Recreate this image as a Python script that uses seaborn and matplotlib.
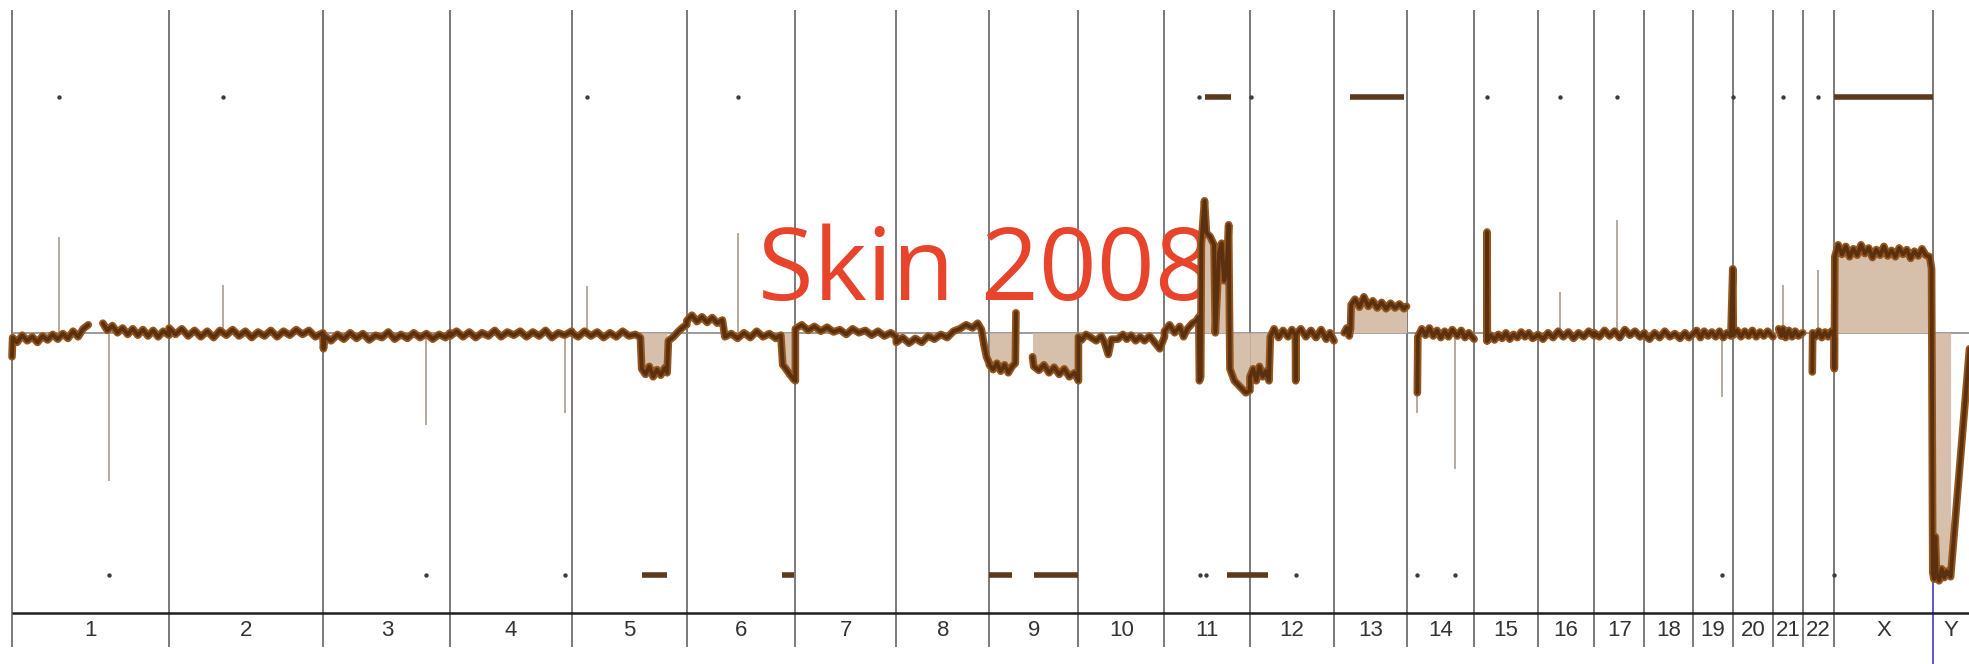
import numpy as np
import pandas as pd
import matplotlib
matplotlib.use("Agg")
import matplotlib.pyplot as plt
import seaborn as sns

nan = np.nan

# chromosomes (hg18 lengths, Mb)
chrom_names = ["1", "2", "3", "4", "5", "6", "7", "8", "9", "10", "11", "12",
               "13", "14", "15", "16", "17", "18", "19", "20", "21", "22", "X", "Y"]
chrom_lengths = [247.2, 242.9, 199.5, 191.3, 180.9, 170.9, 158.8, 146.3, 140.3,
                 135.4, 134.5, 132.3, 114.1, 106.4, 100.3, 88.8, 78.8, 76.1,
                 63.8, 62.4, 46.9, 49.7, 154.9, 57.8]

# smoothed log2 ratio: (position in chromosome, level), nan = gap
chr1_profile = [(0, -0.3), (1, -0.06), (8, -0.12), (16, -0.03), (24, -0.1), (32, -0.05),
                (40, -0.12), (48, -0.04), (56, -0.09), (64, -0.02), (72, -0.08), (80, -0.01),
                (88, -0.07), (96, 0.02), (104, -0.05), (112, 0.05), (120, 0.1), (124, nan),
                (143, 0.12), (150, 0.03), (158, 0.09), (166, 0.0), (174, 0.06), (182, -0.02),
                (190, 0.05), (198, -0.03), (206, 0.04), (214, -0.04), (222, 0.03),
                (230, -0.05), (238, 0.02), (247, -0.03)]
chr2_profile = [(0, 0.06), (10, -0.02), (20, 0.05), (30, -0.04), (40, 0.03), (50, -0.05),
                (60, 0.02), (70, -0.06), (80, 0.03), (90, -0.03), (100, 0.04), (110, -0.04),
                (120, 0.02), (130, -0.06), (140, 0.01), (150, -0.04), (160, 0.03),
                (170, -0.05), (180, 0.02), (190, -0.03), (200, 0.04), (210, -0.02),
                (220, 0.03), (230, -0.05), (242, 0.0)]
chr3_profile = [(0, -0.2), (2, -0.04), (12, -0.1), (22, -0.02), (32, -0.08), (42, 0.0),
                (52, -0.07), (62, -0.01), (72, -0.09), (82, -0.03), (92, -0.06), (102, 0.01),
                (112, -0.08), (122, -0.02), (132, -0.07), (142, 0.0), (152, -0.06),
                (162, -0.01), (172, -0.08), (182, -0.02), (192, -0.06), (199, 0.0)]
chr4_profile = [(0, -0.04), (10, 0.02), (20, -0.05), (30, 0.01), (40, -0.06), (50, 0.0),
                (60, -0.04), (70, 0.03), (80, -0.05), (90, 0.01), (100, -0.03), (110, 0.02),
                (120, -0.05), (130, 0.01), (140, -0.04), (150, 0.03), (160, -0.06),
                (170, 0.0), (180, -0.03), (191, 0.02)]
chr5_profile = [(0, 0.0), (10, -0.05), (20, 0.02), (30, -0.04), (40, 0.01), (50, -0.06),
                (60, 0.0), (70, -0.05), (80, 0.02), (90, -0.04), (100, -0.02), (108, -0.06),
                (110, -0.45), (116, -0.52), (122, -0.42), (128, -0.55), (134, -0.46),
                (140, -0.53), (146, -0.44), (150, -0.5), (152, -0.1), (160, -0.05),
                (168, 0.02), (175, 0.07), (180.9, 0.1)]
chr6_profile = [(0, 0.15), (8, 0.22), (16, 0.14), (24, 0.2), (32, 0.13), (40, 0.19),
                (48, 0.12), (56, 0.16), (60, -0.05), (70, -0.01), (80, -0.07), (90, 0.0),
                (100, -0.06), (110, 0.02), (120, -0.05), (130, -0.01), (140, -0.07),
                (148, -0.03), (151, -0.4), (156, -0.45), (162, -0.52), (168, -0.58),
                (170.9, -0.6)]
chr7_profile = [(0, 0.05), (10, 0.1), (20, 0.03), (30, 0.08), (40, 0.02), (50, 0.07),
                (60, 0.01), (70, 0.04), (80, -0.02), (90, 0.05), (100, 0.0), (110, 0.03),
                (120, -0.03), (130, 0.02), (140, -0.04), (150, 0.0), (158.8, -0.05)]
chr8_profile = [(0, -0.12), (10, -0.06), (20, -0.13), (30, -0.07), (40, -0.12), (50, -0.04),
                (60, -0.08), (70, -0.02), (80, -0.06), (90, 0.02), (100, 0.05), (110, 0.1),
                (120, 0.06), (128, 0.12), (134, 0.04), (138, -0.15), (142, -0.3),
                (146.3, -0.38)]
chr9_profile = [(0, -0.4), (6, -0.46), (12, -0.38), (18, -0.48), (24, -0.4), (30, -0.5),
                (36, -0.42), (41, -0.38), (42, 0.25), (42.5, nan), (68, -0.3), (70, -0.42),
                (78, -0.47), (86, -0.4), (94, -0.5), (102, -0.43), (110, -0.52),
                (118, -0.45), (126, -0.55), (134, -0.5), (140.3, -0.6)]
chr10_profile = [(0, -0.05), (5, -0.09), (12, -0.02), (20, -0.06), (28, -0.1), (36, -0.04),
                 (41, -0.12), (47, -0.27), (52, -0.08), (62, -0.08), (70, -0.02),
                 (76, -0.08), (83, -0.03), (90, -0.1), (97, -0.05), (104, -0.1),
                 (112, -0.04), (120, -0.12), (128, -0.2), (135.4, -0.05)]
chr11_profile = [(0, 0.02), (8, 0.1), (16, 0.0), (24, 0.08), (30, -0.05), (36, 0.05),
                 (44, 0.12), (50, 0.15), (54, 0.2), (55, -0.6), (57, -0.55), (58, 1.1),
                 (63, 1.65), (66, 1.25), (72, 1.2), (78, 1.1), (80, 0.0), (86, 1.0),
                 (90, 1.12), (94, 0.65), (98, 0.8), (101, 1.35), (103, -0.45), (110, -0.6),
                 (116, -0.65), (122, -0.7), (128, -0.75), (134.5, -0.72)]
chr12_profile = [(0, -0.55), (5, -0.45), (10, -0.6), (15, -0.42), (20, -0.55), (25, -0.48),
                 (30, -0.6), (32, -0.05), (38, 0.05), (45, -0.06), (52, 0.03), (60, -0.05),
                 (66, 0.04), (71.5, -0.03), (72, -0.6), (72.5, -0.02), (80, 0.05),
                 (88, -0.05), (96, 0.03), (104, -0.06), (112, 0.04), (120, -0.08),
                 (126, 0.0), (132.3, -0.1)]
chr13_profile = [(0, nan), (16, 0.0), (20, 0.06), (24, -0.04), (26, 0.05), (27, 0.35),
                 (33, 0.42), (40, 0.32), (47, 0.45), (54, 0.33), (61, 0.4), (68, 0.31),
                 (75, 0.38), (82, 0.3), (89, 0.37), (96, 0.31), (103, 0.36), (110, 0.3),
                 (114.1, 0.33)]
chr14_profile = [(0, nan), (17, -0.75), (17.8, -0.05), (24, 0.05), (30, -0.03), (36, 0.06),
                 (42, -0.04), (48, 0.03), (54, -0.06), (60, 0.02), (66, -0.05), (72, 0.04),
                 (80, -0.04), (86, 0.03), (92, -0.06), (98, 0.0), (106.4, -0.08)]
chr15_profile = [(0, nan), (20, -0.1), (20.3, 1.26), (20.8, -0.1), (26, -0.03), (32, -0.09),
                 (38, -0.02), (44, -0.07), (50, 0.0), (56, -0.08), (62, -0.02), (68, -0.06),
                 (74, 0.01), (80, -0.05), (86, 0.0), (92, -0.07), (100.3, -0.03)]
chr16_profile = [(0, -0.02), (8, -0.08), (16, 0.0), (24, -0.06), (32, 0.02), (40, -0.05),
                 (48, 0.01), (56, -0.07), (64, 0.0), (72, -0.05), (80, 0.02), (88.8, -0.04)]
chr17_profile = [(0, 0.0), (8, -0.05), (16, 0.03), (24, -0.04), (32, 0.02), (40, -0.06),
                 (48, 0.04), (56, -0.03), (64, 0.02), (72, -0.05), (78.8, 0.0)]
chr18_profile = [(0, -0.03), (8, -0.08), (16, 0.0), (24, -0.06), (32, 0.02), (40, -0.05),
                 (48, -0.01), (56, -0.07), (64, 0.0), (70, -0.06), (76.1, -0.02)]
chr19_profile = [(0, -0.02), (6, 0.03), (12, -0.06), (18, 0.02), (24, -0.04), (30, 0.01),
                 (36, -0.05), (42, 0.02), (48, -0.06), (54, 0.0), (60, -0.04), (63, 0.8),
                 (63.8, 0.0)]
chr20_profile = [(0, -0.03), (6, 0.03), (12, -0.05), (18, 0.02), (24, -0.04), (30, 0.03),
                 (36, -0.05), (42, 0.01), (48, -0.04), (54, 0.02), (62.4, -0.05)]
chr21_profile = [(0, nan), (9, 0.05), (13, -0.04), (16, 0.05), (20, -0.06), (25, 0.03),
                 (30, -0.05), (35, 0.02), (40, -0.04), (46.9, 0.0)]
chr22_profile = [(0, nan), (15, -0.49), (15.6, 0.0), (20, -0.05), (25, 0.02), (30, -0.06),
                 (35, 0.01), (40, -0.05), (45, 0.02), (49.7, -0.06)]
chrX_profile = [(0, -0.45), (0.8, 0.95), (6, 1.1), (12, 0.98), (18, 1.08), (24, 0.95),
                (30, 1.05), (36, 0.97), (42, 1.1), (48, 0.99), (54, 1.06), (60, 0.94),
                (66, 1.04), (72, 0.97), (78, 1.08), (84, 0.96), (90, 1.03), (96, 0.95),
                (102, 1.06), (108, 0.98), (114, 1.04), (120, 0.93), (126, 1.02),
                (132, 0.96), (138, 1.05), (144, 0.97), (150, 0.95), (153, 0.8)]
chrY_profile = [(0, -3.0), (2, -3.08), (4, -2.55), (6, -3.02), (10, -3.1), (14, -2.95),
                (18, -3.06), (22, -2.98), (28, -3.05), (57.8, -0.2)]

# shaded aberrant segments (chromosome, start, end)
fill_chrom = ["5", "6", "9", "9", "11", "12", "13", "X", "Y"]
fill_start = [109, 150, 0, 68, 54.5, 0, 26.5, 0.5, 0]
fill_end = [151, 170.9, 42, 140.3, 134.5, 31, 114.1, 154.9, 28]

# single-probe outliers (chromosome, position, level)
spike_chrom = ["1", "1", "2", "3", "4", "5", "6", "14", "14", "16", "17", "19", "21", "22"]
spike_pos = [74, 153, 85, 162, 181, 24, 80, 17, 76, 35, 35, 46, 16, 24]
spike_val = [1.2, -1.85, 0.6, -1.15, -1.0, 0.58, 1.25, -1.0, -1.7, 0.51, 1.41, -0.8, 0.6, 0.79]

# gain / loss calls shown as marks at top and bottom
gain_chrom = ["1", "2", "5", "6", "11", "11", "12", "13", "15", "16", "17", "19", "21", "22", "X"]
gain_start = [74, 85, 24, 80, 55, 63, 1, 25, 20.3, 35, 35, 63, 16, 24, 0]
gain_end = [74, 85, 24, 80, 55, 104, 1, 110, 20.3, 35, 35, 63, 16, 24, 154.9]
loss_chrom = ["1", "3", "4", "5", "6", "9", "9", "11", "11", "11", "12", "12", "14", "14", "19", "X"]
loss_start = [153, 162, 181, 110, 150, 0, 71, 56, 66, 98, 0, 72, 17, 76, 46, 0]
loss_end = [153, 162, 181, 150, 168, 36, 140, 56, 66, 134.5, 28, 72, 17, 76, 46, 0]

sns.set_theme(style="white")
plt.rcParams["font.family"] = ["DejaVu Sans"]

offsets = dict(zip(chrom_names, np.concatenate([[0], np.cumsum(chrom_lengths)[:-1]])))
profiles = [chr1_profile, chr2_profile, chr3_profile, chr4_profile, chr5_profile,
            chr6_profile, chr7_profile, chr8_profile, chr9_profile, chr10_profile,
            chr11_profile, chr12_profile, chr13_profile, chr14_profile, chr15_profile,
            chr16_profile, chr17_profile, chr18_profile, chr19_profile, chr20_profile,
            chr21_profile, chr22_profile, chrX_profile, chrY_profile]

rows = []
seg = 0
for name, prof in zip(chrom_names, profiles):
    for pos, val in prof:
        if np.isnan(val):
            seg += 1
            continue
        rows.append((name, offsets[name] + pos, val, seg))
signal = pd.DataFrame(rows, columns=["chrom", "pos", "level", "seg"])

fig = plt.figure(figsize=(19.69, 6.64), dpi=100)
ax = fig.add_axes([0, 0, 1, 1])
ax.set_xlim(-18.9, 3079.5)
ax.set_ylim(-4.14, 4.16)
ax.axis("off")

# chromosome boundaries, zero line and axis
starts = [offsets[n] for n in chrom_names]
ax.vlines(starts[:-1], -3.93, 4.04, color="#707070", lw=1.3, zorder=1)
ax.vlines(offsets["Y"], -3.0, 4.04, color="#707070", lw=1.3, zorder=1)
ax.vlines(offsets["Y"], -4.14, -3.0, color="#4b4bc8", lw=1.3, zorder=1)
ax.hlines(0, 0, 3079.5, color="#8a8a8a", lw=1.2, zorder=1)
ax.hlines(-3.5, 0, 3079.5, color="#1e1e1e", lw=1.8, zorder=1)

for name, length in zip(chrom_names, chrom_lengths):
    ax.text(offsets[name] + length / 2, -3.72, name, ha="center", va="center",
            fontsize=16, color="#333333",
            family=["Liberation Sans", "DejaVu Sans"])

ax.text(0.5003, 0.548, "Skin 2008", transform=ax.transAxes, ha="center",
        va="baseline", fontsize=73, color="#e8432b",
        family=["Open Sans", "DejaVu Sans"], zorder=2)

# shading of called segments
for c, s, e in zip(fill_chrom, fill_start, fill_end):
    sub = signal[(signal.chrom == c) & (signal.pos >= offsets[c] + s) & (signal.pos <= offsets[c] + e)]
    ax.fill_between(sub.pos, 0, sub.level, color="#d6c0ab", lw=0, zorder=2)

# outlier probes
ax.vlines([offsets[c] + p for c, p in zip(spike_chrom, spike_pos)], 0, spike_val,
          color="#b2a395", lw=1.3, zorder=2.5)

# log2 ratio profile
sns.lineplot(data=signal, x="pos", y="level", units="seg", estimator=None, sort=False,
             color="#94561f", lw=5.5, ax=ax, legend=False, zorder=3)
sns.lineplot(data=signal, x="pos", y="level", units="seg", estimator=None, sort=False,
             color="#5a300f", lw=2.8, ax=ax, legend=False, zorder=3.1)

# call marks
for chroms, st, en, y in [(gain_chrom, gain_start, gain_end, 2.95),
                          (loss_chrom, loss_start, loss_end, -3.03)]:
    for c, s, e in zip(chroms, st, en):
        if e > s:
            ax.plot([offsets[c] + s, offsets[c] + e], [y, y], color="#5b3a1e",
                    lw=4, solid_capstyle="butt", zorder=4)
        else:
            ax.scatter([offsets[c] + s], [y], color="#3c3c3c", s=10, lw=0, zorder=4)

ax.set_xlabel("")
ax.set_ylabel("")
fig.savefig("out.png", dpi=100)
